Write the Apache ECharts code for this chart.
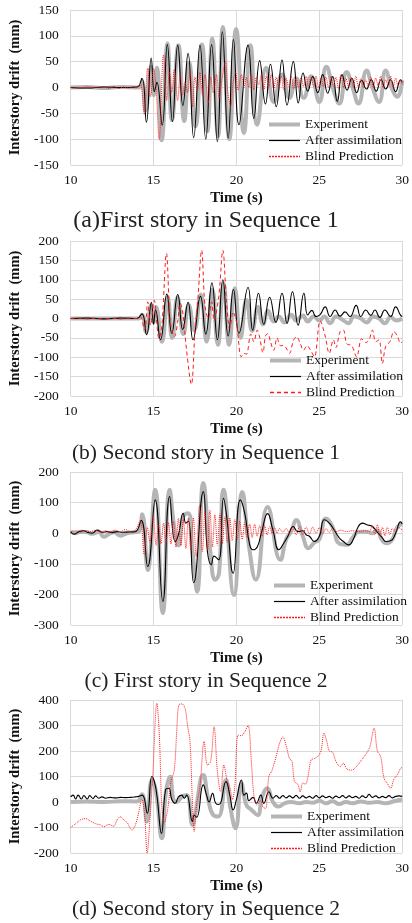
<!DOCTYPE html>
<html>
<head>
<meta charset="utf-8">
<script src="https://cdn.jsdelivr.net/npm/echarts@6/dist/echarts.min.js"></script>
<style>
  html, body { margin: 0; padding: 0; background: #fff; }
  #chart { width: 412px; height: 923px; }
</style>
</head>
<body>
<div id="chart"></div>
<script>
// [time (s), drift (mm)] pairs

// (a) First story, Sequence 1
const expA = [[10,0],[11,1],[12,-1],[13,1],[14.1,0],[14.3,12],[14.52,-45],[14.85,40],[15.02,-15],[15.2,38],[15.49,-102],[15.84,85],[16.11,-63],[16.5,82],[16.85,-65],[17.15,48],[17.53,-75],[17.92,83],[18.25,-85],[18.54,95],[18.89,-95],[19.18,117],[19.57,-100],[19.98,113],[20.45,-88],[20.84,82],[21.25,-72],[21.8,38],[22.25,-28],[22.75,25],[23.2,-20],[23.6,18],[24.05,-20],[24.5,22],[25.0,-28],[25.42,40],[25.85,-5],[26.2,-31],[26.65,30],[27.0,0],[27.36,-31],[27.85,33],[28.2,0],[28.6,-28],[29.0,33],[29.35,0],[29.7,-18],[30,14]];
const fitA = [[10,0],[11,-1],[12,1],[13,0],[14.0,1],[14.3,18],[14.57,-67],[14.86,57],[15.05,-8],[15.2,10],[15.52,-73],[15.83,83],[16.14,-66],[16.46,82],[16.77,-35],[17.08,66],[17.42,-97],[17.8,82],[18.15,-100],[18.5,83],[18.85,-105],[19.15,108],[19.5,-98],[19.82,93],[20.15,-72],[20.7,82],[21.05,-60],[21.4,52],[21.75,-32],[22.05,45],[22.4,-37],[22.75,53],[23.05,-34],[23.43,50],[23.73,-30],[24.02,28],[24.3,-7],[24.6,21],[24.9,-10],[25.2,25],[25.5,-11],[25.8,21],[26.08,-27],[26.37,25],[26.67,-5],[26.96,18],[27.25,-10],[27.55,14],[27.84,-3],[28.13,15],[28.43,-7],[28.72,15],[29.0,-3],[29.3,15],[29.6,-8],[29.9,15],[30,10]];
const blindA = [[10,0],[10.5,-1],[11,1],[11.5,0],[12,2],[12.3,-2],[12.6,2],[12.9,-2],[13.2,1],[13.5,-1],[13.8,2],[14.0,0],[14.2,8],[14.44,-52],[14.64,37],[14.82,-18],[15.0,37],[15.15,0],[15.34,-101],[15.6,63],[15.8,-25],[15.95,30],[16.1,-10],[16.25,35],[16.45,-25],[16.6,25],[16.75,-15],[16.9,10],[17.05,-10],[17.2,30],[17.35,-37],[17.5,20],[17.65,-5],[17.8,30],[17.95,-15],[18.1,25],[18.3,-30],[18.45,20],[18.6,-10],[18.8,25],[18.95,-20],[19.1,10],[19.33,50],[19.48,-10],[19.65,-37],[19.8,10],[19.95,30],[20.1,-5],[20.3,25],[20.45,0],[20.6,20],[20.75,0],[20.9,25],[21.05,-5],[21.2,20],[21.35,5],[21.5,25],[21.65,-5],[21.8,22],[21.95,0],[22.1,25],[22.25,-3],[22.4,20],[22.55,0],[22.7,22],[22.85,-5],[23.0,18],[23.15,2],[23.3,22],[23.45,-3],[23.6,18],[23.75,0],[23.9,20],[24.05,2],[24.2,22],[24.35,0],[24.5,20],[24.65,2],[24.8,22],[24.95,0],[25.1,18],[25.25,2],[25.4,20],[25.55,0],[25.7,22],[25.85,2],[26.0,20],[26.15,-2],[26.3,25],[26.45,0],[26.6,18],[26.75,3],[26.9,20],[27.05,0],[27.2,22],[27.35,2],[27.5,18],[27.65,0],[27.8,15],[27.95,2],[28.1,20],[28.25,0],[28.4,18],[28.55,3],[28.7,22],[28.85,0],[29.0,15],[29.15,2],[29.3,22],[29.45,0],[29.6,18],[29.75,3],[29.9,15],[30,5]];

// (b) Second story, Sequence 1
const expB = [[10,0],[14.1,0],[14.3,10],[14.55,-35],[14.85,35],[15.0,-10],[15.15,30],[15.5,-60],[15.85,55],[16.12,-50],[16.45,55],[16.8,-40],[17.12,35],[17.45,-30],[17.85,62],[18.2,-60],[18.55,75],[18.88,-68],[19.22,90],[19.56,-68],[19.9,78],[20.25,-50],[20.6,48],[20.95,-32],[21.3,30],[21.6,-15],[21.9,20],[22.25,-8],[22.55,5],[22.9,-10],[23.3,10],[23.6,-5],[24.0,8],[24.3,-8],[24.65,5],[25.0,-5],[25.3,5],[25.65,-12],[26.0,5],[26.4,-3],[26.75,-12],[27.1,6],[27.5,0],[27.85,-10],[28.25,5],[28.6,0],[28.95,-12],[29.3,3],[29.65,-5],[30,0]];
const fitB = [[10,0],[11,1],[12,-1],[13,1],[14.0,0],[14.3,12],[14.58,-42],[14.87,42],[15.0,-15],[15.12,22],[15.42,-55],[15.8,63],[16.1,-38],[16.46,62],[16.76,-28],[17.08,42],[17.38,-55],[17.83,57],[18.15,-40],[18.52,92],[18.85,-55],[19.18,100],[19.5,-45],[19.82,75],[20.15,-38],[20.7,80],[20.98,-30],[21.33,65],[21.65,-15],[22.0,55],[22.38,-10],[22.75,65],[23.05,-13],[23.38,69],[23.72,-17],[24.07,65],[24.3,9],[24.55,21],[24.8,5],[25.05,10],[25.35,30],[25.65,5],[25.95,22],[26.25,6],[26.55,17],[26.85,5],[27.22,34],[27.5,5],[27.8,22],[28.1,8],[28.35,22],[28.65,3],[28.95,22],[29.3,5],[29.6,30],[29.9,8],[30,5]];
const blindB = [[10,0],[10.5,1],[11,-1],[11.5,1],[12,-2],[12.5,1],[13,-1],[13.5,1],[14.0,0],[14.2,5],[14.46,-30],[14.65,43],[14.82,-17],[15.04,47],[15.33,-52],[15.5,-20],[15.78,168],[15.95,30],[16.05,-20],[16.26,-47],[16.45,-10],[16.6,40],[16.75,20],[16.98,-77],[17.28,-170],[17.5,-34],[17.67,47],[17.9,176],[18.1,34],[18.3,0],[18.5,43],[18.65,-5],[18.93,56],[19.18,176],[19.4,43],[19.6,-26],[19.8,17],[20.0,-9],[20.29,-99],[20.45,-90],[20.6,-92],[20.87,-40],[21.05,-60],[21.25,-30],[21.37,-43],[21.6,-88],[21.75,-45],[21.9,-39],[22.05,-60],[22.25,-82],[22.45,-50],[22.65,-70],[22.85,-70],[23.05,-80],[23.2,-90],[23.45,-55],[23.63,-47],[23.85,-65],[24.05,-82],[24.25,-70],[24.45,-80],[24.7,-99],[25.05,-6],[25.35,-45],[25.6,-90],[25.85,-55],[26.0,-75],[26.25,-34],[26.45,-30],[26.65,-65],[26.95,-70],[27.25,-99],[27.55,-52],[27.8,-62],[28.0,-55],[28.2,-30],[28.4,-60],[28.6,-55],[28.8,-116],[29.0,-72],[29.25,-60],[29.5,-34],[29.7,-45],[29.9,-64],[30,-60]];

// (c) First story, Sequence 2
const expC = [[10,5],[10.3,0],[10.6,5],[11,3],[11.3,-2],[11.7,5],[12.0,-12],[12.3,-3],[12.6,3],[13.0,-8],[13.4,0],[13.8,3],[14.1,5],[14.32,62],[14.65,-120],[15.1,142],[15.56,-261],[15.97,142],[16.25,20],[16.5,-40],[16.79,55],[17.08,65],[17.35,-60],[17.63,-191],[18.0,164],[18.4,-50],[18.73,-152],[18.95,-130],[19.22,142],[19.85,-202],[20.35,135],[20.75,-40],[21.17,-152],[21.88,86],[22.65,-87],[23.0,-20],[23.3,5],[23.6,43],[24.0,-10],[24.35,-49],[24.7,-30],[25.0,-20],[25.4,48],[25.8,20],[26.2,-34],[26.67,-38],[27.0,-15],[27.4,5],[27.8,5],[28.2,0],[28.5,10],[28.75,-20],[29.05,-33],[29.4,-20],[29.7,20],[30,30]];
const fitC = [[10,5],[10.2,-3],[10.5,5],[10.8,8],[11.0,3],[11.3,0],[11.6,10],[11.9,3],[12.2,5],[12.5,2],[12.8,5],[13.1,3],[13.5,4],[13.9,5],[14.25,42],[14.65,-109],[15.1,109],[15.56,-223],[15.97,120],[16.3,-27],[16.5,-5],[16.79,65],[16.95,33],[17.1,40],[17.42,-162],[18.0,136],[18.25,-60],[18.48,-103],[18.65,-75],[18.93,-87],[19.22,114],[19.4,60],[19.8,-131],[20.23,109],[20.5,65],[20.8,-38],[21.0,-54],[21.26,-44],[21.5,0],[21.88,64],[22.2,10],[22.56,-54],[22.85,-33],[23.1,-10],[23.43,22],[23.7,5],[24.0,8],[24.2,-5],[24.4,-10],[24.7,-27],[25.0,-10],[25.3,44],[25.6,33],[25.9,10],[26.2,-15],[26.45,-27],[26.76,-38],[27.05,-20],[27.35,22],[27.6,33],[27.9,27],[28.2,22],[28.55,0],[28.8,-15],[29.0,-27],[29.3,-25],[29.6,0],[29.9,37],[30,30]];
const blindC = [[10,5],[10.3,8],[10.6,3],[10.9,8],[11.2,5],[11.5,10],[11.8,4],[12.1,8],[12.4,3],[12.7,10],[13.0,5],[13.3,12],[13.6,5],[13.9,10],[14.2,42],[14.44,-72],[14.62,20],[14.78,-30],[14.98,60],[15.15,-40],[15.3,27],[15.45,-35],[15.6,33],[15.75,-30],[15.9,35],[16.05,-35],[16.2,38],[16.35,-45],[16.5,49],[16.65,-40],[16.8,45],[16.95,-50],[17.1,49],[17.25,-55],[17.4,50],[17.57,-77],[17.77,91],[17.95,-60],[18.1,70],[18.26,-55],[18.4,75],[18.55,-45],[18.7,60],[18.85,-40],[19.0,64],[19.15,-35],[19.3,55],[19.45,-30],[19.6,50],[19.75,-25],[19.9,45],[20.05,-20],[20.2,40],[20.35,-20],[20.5,35],[20.65,-15],[20.8,30],[20.95,-15],[21.1,30],[21.25,-10],[21.4,25],[21.55,-10],[21.7,25],[21.85,-5],[22.0,22],[22.15,0],[22.3,20],[22.45,0],[22.6,15],[22.8,3],[23.0,15],[23.2,0],[23.4,20],[23.6,-5],[23.8,22],[24.0,-5],[24.2,20],[24.4,-3],[24.6,20],[24.8,0],[25.0,18],[25.2,-3],[25.4,15],[25.6,3],[25.8,15],[26.0,5],[26.3,10],[26.6,5],[27.0,8],[27.4,5],[27.8,8],[28.0,5],[28.2,25],[28.35,-5],[28.5,28],[28.65,-10],[28.8,20],[28.95,-8],[29.1,20],[29.25,-5],[29.4,15],[29.6,5],[29.8,18],[30,10]];

// (d) Second story, Sequence 2
const expD = [[10,0],[11,2],[12,0],[13,3],[14.0,2],[14.3,30],[14.6,-77],[14.9,86],[15.15,40],[15.5,-142],[15.75,40],[16.0,99],[16.2,10],[16.4,0],[16.7,20],[17.0,27],[17.35,-90],[17.5,-50],[18.0,106],[18.3,10],[18.6,-51],[18.9,-57],[19.37,86],[19.6,-10],[19.95,-103],[20.3,73],[20.6,-12],[20.9,-30],[21.27,-51],[21.55,20],[21.86,54],[22.2,0],[22.55,-18],[22.9,-5],[23.3,0],[23.8,-5],[24.2,0],[24.6,-3],[25.0,5],[25.4,-5],[25.8,3],[26.2,-8],[26.6,0],[27.0,-5],[27.5,2],[28.0,-3],[28.5,0],[29.0,-5],[29.5,3],[30,10]];
const fitD = [[10,20],[10.15,27],[10.3,12],[10.45,27],[10.65,12],[10.8,25],[11.0,12],[11.15,25],[11.35,14],[11.5,24],[11.7,15],[11.9,20],[12.1,15],[12.4,18],[12.7,16],[13.0,18],[13.3,17],[13.6,18],[13.9,20],[14.1,22],[14.32,27],[14.62,-44],[14.9,100],[15.05,80],[15.2,27],[15.48,-123],[15.72,47],[15.92,54],[16.1,10],[16.3,-5],[16.5,20],[16.7,27],[16.85,15],[17.0,27],[17.35,-77],[17.45,-51],[17.6,-60],[18.0,67],[18.2,27],[18.35,0],[18.56,34],[18.75,-5],[18.95,-10],[19.37,80],[19.6,27],[19.8,-31],[20.0,10],[20.3,86],[20.45,27],[20.6,35],[20.75,5],[21.0,18],[21.2,-5],[21.47,27],[21.65,-5],[21.96,40],[22.2,15],[22.4,25],[22.6,15],[22.8,25],[23.0,16],[23.2,24],[23.4,16],[23.6,26],[23.8,15],[24.0,24],[24.2,16],[24.4,22],[24.6,15],[24.8,25],[25.0,16],[25.2,24],[25.4,17],[25.6,22],[25.8,15],[26.0,23],[26.2,17],[26.4,25],[26.6,16],[26.8,24],[27.0,17],[27.2,22],[27.4,15],[27.6,24],[27.8,17],[28.0,30],[28.2,18],[28.4,24],[28.6,16],[28.8,22],[29.0,17],[29.2,25],[29.4,16],[29.6,22],[29.8,24],[30,22]];
const blindD = [[10,-100],[10.3,-85],[10.6,-70],[10.9,-65],[11.2,-75],[11.5,-85],[11.8,-90],[12.0,-97],[12.3,-88],[12.6,-95],[12.8,-70],[13.0,-58],[13.2,-70],[13.4,-80],[13.7,-110],[13.9,-90],[14.07,-51],[14.3,10],[14.45,-40],[14.62,-200],[14.75,-100],[14.95,100],[15.2,387],[15.35,260],[15.5,-20],[15.65,-80],[15.85,-30],[16.05,80],[16.25,125],[16.4,280],[16.52,380],[16.7,385],[16.9,367],[17.05,300],[17.2,237],[17.35,-12],[17.45,-116],[17.6,-10],[17.8,60],[18.05,237],[18.25,145],[18.45,160],[18.65,295],[18.85,120],[19.05,40],[19.24,145],[19.45,80],[19.6,60],[19.75,10],[19.9,60],[20.1,262],[20.3,260],[20.5,275],[20.7,300],[20.9,158],[21.05,27],[21.23,-12],[21.45,5],[21.6,-20],[21.76,-25],[21.95,99],[22.15,125],[22.4,180],[22.6,230],[22.8,255],[23.0,220],[23.2,170],[23.35,160],[23.5,80],[23.7,70],[23.85,40],[24.0,75],[24.15,70],[24.3,95],[24.5,165],[24.7,170],[24.9,178],[25.1,200],[25.28,270],[25.45,237],[25.6,200],[25.8,195],[26.0,160],[26.26,139],[26.45,152],[26.65,130],[26.95,125],[27.25,140],[27.55,165],[27.83,190],[28.05,217],[28.3,289],[28.5,200],[28.7,178],[28.9,93],[29.1,73],[29.3,54],[29.5,90],[29.7,106],[29.9,132],[30,135]];

const xTicks = { min: 10, max: 30, step: 5 };
const legendNames = ['Experiment', 'After assimilation', 'Blind Prediction'];

const FONT = 'Liberation Serif';
const GRID_COLOR = '#d9d9d9';
const EXP_COLOR = '#b5b5b5';
const RED = '#ff1a1a';

const panels = [
  { key: 'a', exp: expA, fit: fitA, blind: blindA, blindType: 'dotted', yMin: -150, yMax: 150, yStep: 50, top: 10, height: 155, legendLeft: 267, legendTop: 117.5, capTop: 209, capSize: 24, caption: '(a)First story in Sequence 1' },
  { key: 'b', exp: expB, fit: fitB, blind: blindB, blindType: [4, 3], yMin: -200, yMax: 200, yStep: 50, top: 241, height: 155, legendLeft: 268, legendTop: 353.5, capTop: 442, capSize: 21.5, caption: '(b) Second story in Sequence 1' },
  { key: 'c', exp: expC, fit: fitC, blind: blindC, blindType: 'dotted', yMin: -300, yMax: 200, yStep: 100, top: 472, height: 153, legendLeft: 272, legendTop: 578.5, capTop: 670, capSize: 21.5, caption: '(c) First story in Sequence 2' },
  { key: 'd', exp: expD, fit: fitD, blind: blindD, blindType: 'dotted', yMin: -200, yMax: 400, yStep: 100, top: 700, height: 153, legendLeft: 269, legendTop: 809.5, capTop: 898, capSize: 21.5, caption: '(d) Second story in Sequence 2' },
];

const chart = echarts.init(document.getElementById('chart'), null, { renderer: 'canvas' });

const option = {
  animation: false,
  backgroundColor: '#fff',
  grid: [], xAxis: [], yAxis: [], series: [], legend: [], title: [],
};

// symbol dot hidden in the legend so only the line sample shows
const noDot = { opacity: 0 };

panels.forEach((p, i) => {
  option.grid.push({ left: 63, right: 8, top: p.top, height: p.height });
  option.xAxis.push({
    type: 'value', gridIndex: i, min: xTicks.min, max: xTicks.max, interval: xTicks.step,
    name: 'Time (s)', nameLocation: 'middle', nameGap: 26,
    nameTextStyle: { fontFamily: FONT, fontWeight: 'bold', fontSize: 15, color: '#111' },
    axisLine: { show: false }, axisTick: { show: false },
    axisLabel: { fontFamily: FONT, fontSize: 13.5, color: '#111', margin: 8 },
    splitLine: { show: true, lineStyle: { color: GRID_COLOR, width: 1 } },
  });
  option.yAxis.push({
    type: 'value', gridIndex: i, min: p.yMin, max: p.yMax, interval: p.yStep,
    name: 'Interstory drift  (mm)', nameLocation: 'middle', nameGap: 40,
    nameTextStyle: { fontFamily: FONT, fontWeight: 'bold', fontSize: 14.5, color: '#111' },
    axisLine: { show: false }, axisTick: { show: false },
    axisLabel: { fontFamily: FONT, fontSize: 13.5, color: '#111', margin: 12 },
    splitLine: { show: true, lineStyle: { color: GRID_COLOR, width: 1 } },
  });

  const names = legendNames.map(n => n + '#' + p.key);
  option.series.push(
    { name: names[0], type: 'line', xAxisIndex: i, yAxisIndex: i, data: p.exp, symbol: 'none', smooth: 0.5,
      lineStyle: { color: EXP_COLOR, width: 4 }, itemStyle: { color: EXP_COLOR } },
    { name: names[1], type: 'line', xAxisIndex: i, yAxisIndex: i, data: p.fit, symbol: 'none', smooth: 0.5,
      lineStyle: { color: '#000', width: 1.1 }, itemStyle: { color: '#000' } },
    { name: names[2], type: 'line', xAxisIndex: i, yAxisIndex: i, data: p.blind, symbol: 'none', smooth: 0.35,
      lineStyle: { color: RED, width: 1, type: p.blindType }, itemStyle: { color: RED } },
  );

  option.legend.push({
    orient: 'vertical', left: p.legendLeft, top: p.legendTop,
    itemWidth: 31, itemHeight: 14, itemGap: 2, padding: 0,
    selectedMode: false,
    textStyle: { fontFamily: FONT, fontSize: 13.5, lineHeight: 14, color: '#111' },
    formatter: name => name.split('#')[0],
    data: [
      { name: names[0], itemStyle: noDot, lineStyle: { width: 4, color: EXP_COLOR } },
      { name: names[1], itemStyle: noDot, lineStyle: { width: 1.2, color: '#000' } },
      { name: names[2], itemStyle: noDot, lineStyle: { width: 1.4, color: RED, type: p.blindType === 'dotted' ? [2, 1] : p.blindType } },
    ],
  });

  option.title.push({
    text: p.caption, left: 'center', top: p.capTop, padding: 0,
    textStyle: { fontFamily: FONT, fontWeight: 'normal', fontSize: p.capSize, color: '#222' },
  });
});

chart.setOption(option);
</script>
</body>
</html>
